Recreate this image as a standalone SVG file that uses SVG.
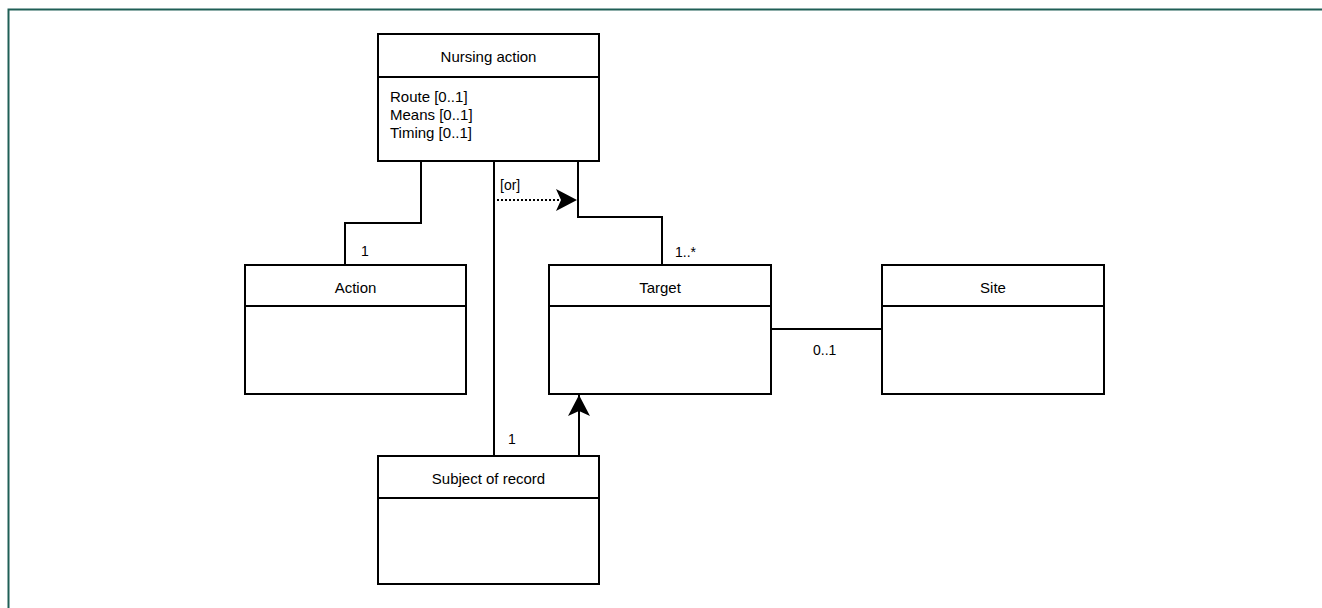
<svg xmlns="http://www.w3.org/2000/svg" width="1322" height="608" viewBox="0 0 1322 608">
<style>
.box{fill:#fff;stroke:#000;stroke-width:2}
.sep{stroke:#000;stroke-width:2}
.ln{fill:none;stroke:#000;stroke-width:2}
.t{font-family:"Liberation Sans",Arial,sans-serif;font-size:15px;fill:#000}
.c{text-anchor:middle}
.a{font-family:"Liberation Sans",Arial,sans-serif;font-size:15px;fill:#000}
.l{font-family:"Liberation Sans",Arial,sans-serif;font-size:14px;fill:#000}
</style>
<defs>
<marker id="arr" markerUnits="userSpaceOnUse" markerWidth="24" markerHeight="24" viewBox="0 0 24 24" refX="22" refY="12" orient="auto">
<path d="M1,1 L22,12 L1,23 L6,12 Z" fill="#000"/>
</marker>
</defs>
<rect width="1322" height="608" fill="#fff"/>
<path d="M8.5,608 V9.5 H1322" fill="none" stroke="#1f5f56" stroke-width="2"/>

<g id="connectors">
<path class="ln" d="M421,161 V223 H345 V265"/>
<path class="ln" d="M578,161 V217 H662 V265"/>
<path class="ln" d="M494,161 V456"/>
<path class="ln" d="M497,200 H577" stroke-dasharray="2,2" marker-end="url(#arr)"/>
<path class="ln" d="M579,456 V395" marker-end="url(#arr)"/>
<path class="ln" d="M771,329 H882"/>
<text class="l" x="361" y="256">1</text>
<text class="l" x="675" y="257">1..*</text>
<text class="l" x="500" y="190">[or]</text>
<text class="l" x="508" y="444">1</text>
<text class="l" x="813" y="355">0..1</text>
</g>

<g id="nursing-action">
<rect class="box" x="378" y="34" width="221" height="127"/>
<line class="sep" x1="378" y1="77" x2="599" y2="77"/>
<text class="t c" x="488.5" y="62">Nursing action</text>
<text class="a" x="390" y="102">Route [0..1]</text>
<text class="a" x="390" y="120">Means [0..1]</text>
<text class="a" x="390" y="138">Timing [0..1]</text>
</g>

<g id="action">
<rect class="box" x="245" y="265" width="221" height="129"/>
<line class="sep" x1="245" y1="306" x2="466" y2="306"/>
<text class="t c" x="355.5" y="293">Action</text>
</g>

<g id="target">
<rect class="box" x="549" y="265" width="222" height="129"/>
<line class="sep" x1="549" y1="306" x2="771" y2="306"/>
<text class="t c" x="660" y="293">Target</text>
</g>

<g id="site">
<rect class="box" x="882" y="265" width="222" height="129"/>
<line class="sep" x1="882" y1="306" x2="1104" y2="306"/>
<text class="t c" x="993" y="293">Site</text>
</g>

<g id="subject-of-record">
<rect class="box" x="378" y="456" width="221" height="128"/>
<line class="sep" x1="378" y1="498" x2="599" y2="498"/>
<text class="t c" x="488.5" y="484">Subject of record</text>
</g>
</svg>
